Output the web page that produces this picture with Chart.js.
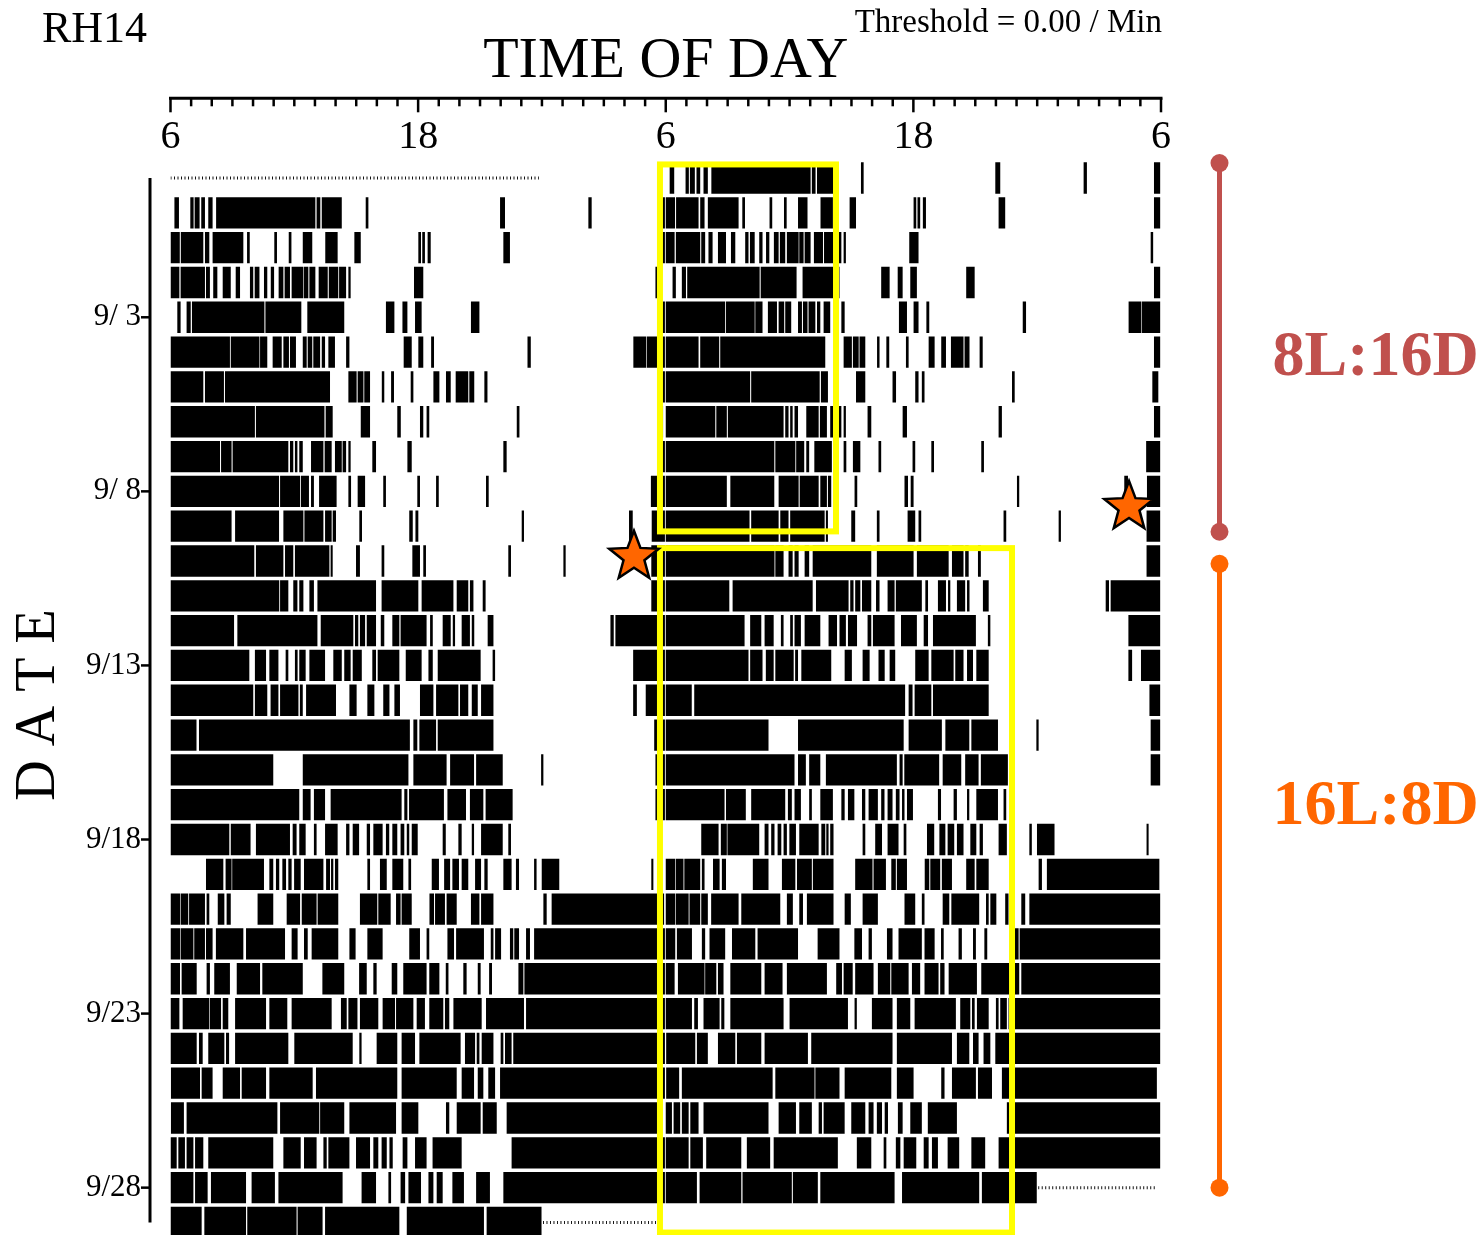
<!DOCTYPE html>
<html>
<head>
<meta charset="utf-8">
<title>RH14 actogram</title>
<script src="https://cdn.jsdelivr.net/npm/chart.js@4.4.1/dist/chart.umd.min.js"></script>
<style>
  html, body { margin: 0; padding: 0; background: #fff; overflow: hidden; }
  #wrap { position: relative; width: 1484px; height: 1235px; }
</style>
</head>
<body>
<div id="wrap"><canvas id="acto" width="1484" height="1235"></canvas></div>
<script>
// Activity bouts for each recording day, [start, end] in hours after 06:00.
const aug30 = [];
const aug31 = [[0.19,0.41],[0.96,1.12],[1.17,1.41],[1.49,1.67],[1.83,2.04],[2.21,7.02],[7.08,7.26],[7.33,8.30],[9.46,9.59],[15.97,16.21],[20.25,20.41],[23.66,23.96]];
const sep01 = [[0,0.45],[0.5,1.59],[1.67,1.88],[2.04,3.53],[3.71,3.84],[5.03,5.16],[5.73,5.86],[6.41,6.87],[7.5,8.1],[8.91,9.22],[12.01,12.14],[12.2,12.33],[12.46,12.61],[16.13,16.45],[23.66,23.96]];
const sep02 = [[0,0.43],[0.49,1.67],[1.72,1.91],[2.07,2.27],[2.53,2.92],[3.16,3.37],[3.85,4.01],[4.08,4.31],[4.53,4.69],[4.86,5.02],[5.24,5.47],[5.53,5.79],[5.87,6.44],[6.47,6.68],[6.73,7.02],[7.18,7.62],[7.67,8.13],[8.17,8.51],[8.62,8.73],[11.8,12.25],[23.5,23.62]];
const sep03 = [[0.33,0.49],[0.78,0.98],[1.04,4.55],[4.6,6.34],[6.63,8.42],[10.44,10.85],[11.24,11.48],[11.85,12.17],[14.56,14.97],[23.66,23.96]];
const sep04 = [[0,2.88],[2.92,4.31],[4.34,4.69],[4.95,5.39],[5.47,5.74],[5.79,6.08],[6.41,6.6],[6.65,6.87],[6.92,7.25],[7.33,7.49],[7.65,7.97],[8.51,8.67],[11.3,11.69],[12.01,12.25],[12.63,12.77],[17.3,17.46],[22.43,23.05],[23.08,23.96]];
const sep05 = [[0,1.59],[1.67,2.59],[2.64,7.73],[8.62,9.02],[9.07,9.35],[9.39,9.67],[10.24,10.36],[10.69,10.83],[11.64,11.77],[12.74,13.03],[13.35,13.58],[13.82,14.43],[14.48,14.72],[15.21,15.36],[23.66,23.96]];
const sep06 = [[0,4.09],[4.14,7.46],[7.52,7.86],[9.22,9.67],[10.99,11.16],[12.09,12.25],[12.41,12.54],[16.78,16.91],[23.58,23.87]];
const sep07 = [[0,2.4],[2.45,2.96],[3.01,5.71],[5.79,5.95],[6.03,6.15],[6.24,6.41],[6.81,7.41],[7.47,7.81],[7.97,8.3],[8.34,8.51],[8.62,8.73],[9.78,9.96],[11.48,11.69],[16.13,16.29],[23.66,23.96]];
const sep08 = [[0,5.26],[5.31,6.28],[6.32,6.71],[6.81,6.95],[7.2,8.05],[8.62,8.75],[9.07,9.43],[10.31,10.44],[11.96,12.09],[12.87,13.0],[15.29,15.42],[23.28,23.96]];
const sep09 = [[0,2.96],[3.13,5.26],[5.47,6.44],[6.49,7.41],[7.49,7.81],[7.86,8.02],[9.15,9.28],[11.57,11.74],[11.87,12.01],[17.02,17.13],[22.22,22.4],[23.32,23.96]];
const sep10 = [[0,4.06],[4.14,5.47],[5.55,5.95],[6.03,7.7],[7.76,7.86],[8.99,9.18],[10.23,10.36],[11.72,12.09],[12.25,12.38],[16.37,16.5],[19.04,19.15],[23.3,23.96]];
const sep11 = [[0,5.27],[5.31,5.71],[5.95,6.15],[6.24,6.44],[6.73,6.95],[7.12,9.96],[10.23,12.01],[12.17,13.71],[13.87,14.43],[14.51,14.68],[15.13,15.27],[23.3,23.96]];
const sep12 = [[0,3.08],[3.24,7.12],[7.28,8.86],[8.94,9.1],[9.18,9.43],[9.51,9.96],[10.19,10.36],[10.75,11.09],[11.15,12.41],[12.58,12.71],[13.19,13.58],[13.68,13.79],[14.11,14.51],[14.6,14.72],[15.37,15.65],[21.32,21.48],[21.56,23.96]];
const sep13 = [[0,3.82],[4.09,4.63],[4.79,5.23],[5.58,5.71],[6.03,6.16],[6.24,6.55],[6.73,7.49],[7.89,8.3],[8.42,8.73],[8.83,9.27],[9.78,9.96],[10.04,11.09],[11.4,12.17],[12.5,12.71],[12.95,15.03],[15.61,15.73],[22.42,23.96]];
const sep14 = [[0,4.01],[4.09,4.69],[4.85,5.23],[5.31,6.2],[6.27,6.41],[6.57,8.02],[8.67,9.02],[9.54,9.88],[10.31,10.61],[10.85,11.12],[12.09,12.74],[12.87,13.95],[14.03,14.43],[14.6,14.89],[15.05,15.65],[22.42,22.6],[23.03,23.96]];
const sep15 = [[0,1.26],[1.38,11.6],[11.77,11.96],[12.06,12.87],[12.95,15.65],[23.44,23.96]];
const sep16 = [[0,4.98],[6.41,11.53],[11.77,13.38],[13.55,14.71],[14.81,16.1],[17.96,18.07],[23.5,23.96]];
const sep17 = [[0,6.24],[6.41,6.79],[6.95,7.49],[7.76,11.2],[11.33,11.48],[11.56,13.25],[13.42,14.32],[14.51,15.16],[15.27,16.58],[23.5,23.96]];
const sep18 = [[0,2.85],[2.92,3.88],[4.14,5.79],[5.92,6.11],[6.24,6.55],[6.95,7.08],[7.49,8.1],[8.51,8.67],[8.83,9.14],[9.51,9.67],[9.83,10.28],[10.44,10.6],[10.75,10.99],[11.15,11.33],[11.45,11.57],[11.69,11.98],[13.19,13.34],[13.95,14.11],[14.6,14.71],[15.05,16.1],[16.37,16.5]];
const sep19 = [[1.72,2.56],[2.67,2.96],[2.99,4.53],[4.79,4.98],[5.11,5.27],[5.42,5.6],[5.71,5.87],[5.99,6.31],[6.47,7.41],[7.54,7.73],[7.78,7.89],[7.97,8.13],[9.54,9.67],[10.15,10.48],[10.75,11.28],[11.53,11.66],[12.66,13.01],[13.26,13.55],[13.66,13.98],[14.11,14.43],[14.76,15.05],[15.21,15.37],[16.13,16.53],[16.74,16.89],[17.62,17.74],[17.99,18.84],[23.3,23.4]];
const sep20 = [[0,0.46],[0.49,0.86],[0.9,1.67],[1.75,1.88],[2.29,2.61],[2.72,2.92],[4.22,4.98],[5.63,6.28],[6.36,7.08],[7.13,8.13],[9.18,10.02],[10.07,10.67],[10.93,11.15],[11.2,11.69],[12.55,12.77],[12.82,13.3],[13.38,13.87],[14.56,14.97],[15.05,15.65],[18.07,18.23],[18.47,23.92]];
const sep21 = [[0,0.46],[0.49,1.11],[1.15,1.67],[1.72,2.04],[2.2,3.53],[3.66,5.55],[5.87,6.16],[6.47,6.65],[6.84,8.13],[8.67,8.97],[9.54,10.28],[11.57,12.09],[12.41,12.54],[13.42,13.74],[13.84,15.19],[15.52,15.65],[15.73,16.02],[16.45,16.61],[16.66,16.89],[17.23,17.42],[17.62,23.96]];
const sep22 = [[0,0.46],[0.54,1.27],[1.75,1.91],[2.12,2.88],[3.21,4.34],[4.45,6.41],[7.36,8.42],[9.14,9.51],[9.83,9.99],[10.72,10.99],[11.28,12.41],[12.54,13.03],[13.34,13.47],[14.19,14.35],[14.89,15.03],[15.44,15.58],[16.86,17.1],[17.15,23.96]];
const sep23 = [[0,0.43],[0.59,1.88],[1.91,2.45],[2.53,2.8],[3.13,4.63],[4.79,5.66],[5.87,7.81],[8.26,8.54],[8.62,9.06],[9.18,10.07],[10.28,10.88],[10.93,11.77],[11.93,12.33],[12.54,13.22],[13.3,13.51],[13.71,15.08],[15.29,17.13],[17.23,23.96]];
const sep24 = [[0,1.27],[1.38,1.56],[1.83,2.61],[2.69,2.84],[3.13,5.71],[6.0,8.83],[9.15,9.26],[9.99,10.99],[11.2,11.85],[12.06,14.06],[14.27,14.76],[14.84,14.97],[15.08,15.65],[16.0,16.13],[16.21,16.53],[16.61,23.96]];
const sep25 = [[0.02,1.43],[1.51,2.04],[2.53,3.37],[3.45,4.63],[4.79,6.89],[7.05,10.99],[11.2,13.87],[14.11,14.71],[14.89,15.16],[15.4,15.73],[15.97,23.96]];
const sep26 = [[0.02,0.65],[0.78,5.18],[5.31,7.21],[7.25,8.42],[8.67,10.93],[11.2,12.01],[13.35,13.51],[13.87,15.03],[15.13,15.81],[16.29,23.8]];
const sep27 = [[0,0.3],[0.38,0.7],[0.78,1.11],[1.19,1.59],[1.83,4.98],[5.47,6.31],[6.47,7.08],[7.41,7.57],[7.65,8.67],[8.99,9.67],[9.83,10.07],[10.23,10.48],[10.61,10.77],[11.25,11.48],[11.85,12.41],[12.7,14.11],[16.53,23.96]];
const sep28 = [[0,1.11],[1.19,1.8],[1.96,3.66],[3.93,5.06],[5.23,8.34],[9.26,9.96],[10.56,10.69],[11.15,11.37],[11.53,12.14],[12.5,12.74],[12.9,13.19],[13.66,14.22],[14.81,15.48],[16.13,23.96]];
const sep29 = [[0,1.51],[1.64,3.66],[3.72,6.11],[6.16,7.37],[7.49,11.09],[11.45,15.19],[15.32,17.98]];

const recordingDays = [aug30, aug31, sep01, sep02, sep03, sep04, sep05, sep06, sep07, sep08, sep09,
  sep10, sep11, sep12, sep13, sep14, sep15, sep16, sep17, sep18, sep19,
  sep20, sep21, sep22, sep23, sep24, sep25, sep26, sep27, sep28, sep29];

// Stretches with no recording: [day index, start, end] in hours after 06:00
const noDataSpans = [[0, 0, 17.85], [30, 18.05, 23.8]];

// Axis ticks
const hourTickLabels = ['6', '18', '6', '18', '6'];
const dateTickRows = [4, 9, 14, 19, 24, 29];
const dateTickLabels = ['9/ 3', '9/ 8', '9/13', '9/18', '9/23', '9/28'];

// Light-phase outlines (hours on the 48 h plot, row span)
const lightBoxes = [
  { from: 23.72, to: 32.25, top: -0.39, bottom: 10.15 },
  { from: 23.72, to: 40.78, top: 10.63, bottom: 30.29 }
];
// Schedule-change markers
const changeStars = [ { hour: 22.46, row: 10.88 }, { hour: 46.45, row: 9.45 } ];
// Photoperiod brackets on the right
const phaseLabels = ['8L:16D', '16L:8D'];
const phaseRows = [[-0.43, 10.16], [11.08, 29.0]];
const phaseLabelRows = [5.17, 18.07];

// ---- build the double-plotted marks ----
const bouts = [];
recordingDays.forEach((day, d) => {
  day.forEach(([s, e]) => {
    bouts.push({ y: d, x: [s, e] });                        // left half: day d on row d
    if (d > 0) bouts.push({ y: d - 1, x: [s + 24, e + 24] }); // right half: day d on row d-1
  });
});

const gapSets = [];
noDataSpans.forEach(([d, s, e]) => {
  gapSets.push([{ x: s, y: d }, { x: e, y: d }]);
  if (d > 0) gapSets.push([{ x: s + 24, y: d - 1 }, { x: e + 24, y: d - 1 }]);
});

const SERIF = "'Liberation Serif', 'Times New Roman', serif";
const PHASE_COLORS = ['#C0504D', '#FF6600'];

const hourTicks = [];
for (let h = 0; h <= 48; h++) hourTicks.push(h);

function starPath(ctx, cx, cy, R, r) {
  ctx.beginPath();
  for (let i = 0; i < 10; i++) {
    const a = -Math.PI / 2 + i * Math.PI / 5;
    const rad = i % 2 === 0 ? R : r;
    ctx.lineTo(cx + rad * Math.cos(a), cy + rad * Math.sin(a));
  }
  ctx.closePath();
}

const decor = {
  id: 'actogramDecor',
  afterDraw(chart) {
    const { ctx, chartArea: area } = chart;
    const xs = chart.scales.x, ys = chart.scales.y;
    ctx.save();

    // light-phase boxes
    ctx.strokeStyle = '#FFFF00';
    ctx.lineWidth = 6;
    lightBoxes.forEach(b => {
      const x0 = xs.getPixelForValue(b.from), x1 = xs.getPixelForValue(b.to);
      const y0 = ys.getPixelForValue(b.top), y1 = ys.getPixelForValue(b.bottom);
      ctx.strokeRect(x0, y0, x1 - x0, y1 - y0);
    });

    // stars
    changeStars.forEach(s => {
      const cx = xs.getPixelForValue(s.hour), cy = ys.getPixelForValue(s.row);
      starPath(ctx, cx, cy, 26, 11);
      ctx.fillStyle = '#FF6600';
      ctx.fill();
      ctx.lineWidth = 2.5;
      ctx.strokeStyle = '#000';
      ctx.lineJoin = 'miter';
      ctx.stroke();
    });

    // time axis line with hourly ticks
    const axY = area.top;
    ctx.strokeStyle = '#000';
    ctx.lineCap = 'butt';
    ctx.lineWidth = 3;
    ctx.beginPath();
    ctx.moveTo(xs.getPixelForValue(0) - 1.5, axY);
    ctx.lineTo(xs.getPixelForValue(48) + 1.5, axY);
    ctx.stroke();
    ctx.lineWidth = 2.5;
    xs.ticks.forEach(t => {
      const px = xs.getPixelForValue(t.value);
      const len = t.value % 12 === 0 ? 14 : 8;
      ctx.beginPath();
      ctx.moveTo(px, axY);
      ctx.lineTo(px, axY + len);
      ctx.stroke();
    });

    // date axis line with ticks
    const axX = area.left - 20.5;
    ctx.lineWidth = 3;
    ctx.beginPath();
    ctx.moveTo(axX, ys.getPixelForValue(0));
    ctx.lineTo(axX, ys.getPixelForValue(30));
    ctx.stroke();
    ctx.lineWidth = 2.5;
    dateTickRows.forEach(r => {
      const py = ys.getPixelForValue(r);
      ctx.beginPath();
      ctx.moveTo(axX - 9, py);
      ctx.lineTo(axX, py);
      ctx.stroke();
    });

    // photoperiod brackets
    const lx = area.right + 58.5;
    phaseRows.forEach(([r0, r1], i) => {
      const y0 = ys.getPixelForValue(r0), y1 = ys.getPixelForValue(r1);
      ctx.strokeStyle = PHASE_COLORS[i];
      ctx.fillStyle = PHASE_COLORS[i];
      ctx.lineWidth = 5;
      ctx.beginPath();
      ctx.moveTo(lx, y0);
      ctx.lineTo(lx, y1);
      ctx.stroke();
      [y0, y1].forEach(y => { ctx.beginPath(); ctx.arc(lx, y, 9, 0, Math.PI * 2); ctx.fill(); });
      ctx.font = 'bold 64px ' + SERIF;
      ctx.textAlign = 'left';
      ctx.textBaseline = 'middle';
      ctx.fillText(phaseLabels[i], lx + 53, ys.getPixelForValue(phaseLabelRows[i]));
    });

    // headings
    ctx.fillStyle = '#000';
    ctx.textBaseline = 'alphabetic';
    ctx.font = '44px ' + SERIF;
    ctx.textAlign = 'left';
    ctx.fillText('RH14', 42, 42);
    ctx.font = '33px ' + SERIF;
    ctx.textAlign = 'right';
    ctx.fillText('Threshold = 0.00 / Min', area.right + 1, 31.5);

    ctx.translate(39, 705);
    ctx.rotate(-Math.PI / 2);
    ctx.font = '56px ' + SERIF;
    ctx.textAlign = 'center';
    ctx.textBaseline = 'middle';
    ctx.fillText('D A T E', 0, 0);

    ctx.restore();
  }
};

const datasets = [{
  type: 'bar',
  indexAxis: 'y',
  data: bouts,
  backgroundColor: '#000',
  borderWidth: 0,
  grouped: false,
  barPercentage: 0.9,
  categoryPercentage: 1
}];
gapSets.forEach(pts => datasets.push({
  type: 'line',
  data: pts,
  borderColor: '#111',
  borderWidth: 3,
  borderDash: [1, 2.5],
  pointRadius: 0,
  fill: false
}));

new Chart(document.getElementById('acto'), {
  type: 'bar',
  data: { datasets },
  options: {
    responsive: false,
    animation: false,
    events: [],
    layout: { padding: { left: 0, right: 323, top: 0, bottom: 0 } },
    plugins: { legend: { display: false }, tooltip: { enabled: false } },
    scales: {
      x: {
        type: 'linear',
        position: 'top',
        offset: false,
        min: 0,
        max: 48,
        grid: { display: false, drawTicks: false, offset: false },
        border: { display: false },
        afterBuildTicks: s => { s.ticks = hourTicks.map(v => ({ value: v })); },
        afterFit: s => {
          s.height = 98.3;
          s.paddingLeft = 0; s.paddingRight = 0; s.paddingTop = 0; s.paddingBottom = 0;
        },
        ticks: {
          mirror: true,
          padding: 15,
          autoSkip: false,
          maxRotation: 0,
          color: '#000',
          font: { family: SERIF, size: 40 },
          callback: v => (v % 12 === 0 ? hourTickLabels[v / 12] : '')
        },
        title: {
          display: true,
          text: 'TIME OF DAY',
          color: '#000',
          font: { family: SERIF, size: 58 },
          padding: { top: 27, bottom: 0 }
        }
      },
      y: {
        type: 'linear',
        reverse: true,
        offset: false,
        min: -2.29,
        max: 30.36,
        grid: { display: false, drawTicks: false, offset: false },
        border: { display: false },
        afterBuildTicks: s => { s.ticks = dateTickRows.map(v => ({ value: v })); },
        afterFit: s => {
          s.width = 170.5;
          s.paddingLeft = 0; s.paddingRight = 0; s.paddingTop = 0; s.paddingBottom = 0;
        },
        ticks: {
          padding: 29.5,
          autoSkip: false,
          color: '#000',
          font: { family: SERIF, size: 31 },
          callback: (v, i) => dateTickLabels[i]
        }
      }
    }
  },
  plugins: [decor]
});
</script>
</body>
</html>
